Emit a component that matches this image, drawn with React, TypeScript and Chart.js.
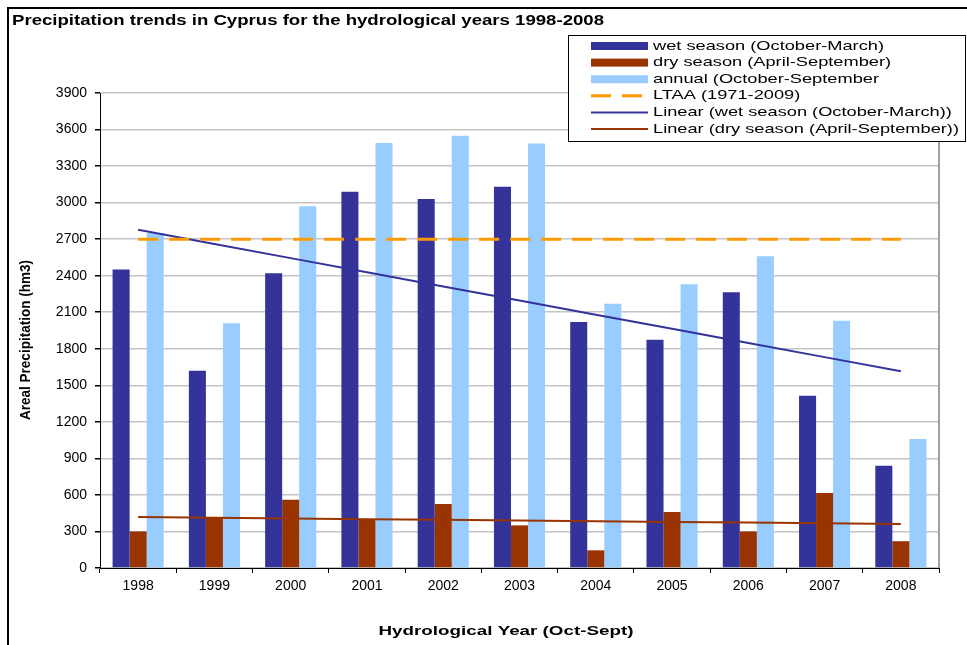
import { useEffect, useRef } from 'react';
import { Chart, registerables } from 'chart.js';

Chart.register(...registerables);

// ---- data ----
const years = ['1998', '1999', '2000', '2001', '2002', '2003', '2004', '2005', '2006', '2007', '2008'];
const wetSeason = [2450, 1620, 2420, 3090, 3030, 3130, 2020, 1875, 2265, 1415, 840];
const drySeason = [300, 410, 560, 400, 525, 350, 145, 460, 300, 615, 220];
const annualTotal = [2750, 2010, 2970, 3490, 3550, 3485, 2170, 2330, 2560, 2030, 1060];
const ltaaValue = 2700;
const yMin = 0;
const yMax = 3900;
const yStep = 300;

const titleText = 'Precipitation trends in Cyprus for the hydrological years 1998-2008';
const yTitleText = 'Areal Precipitation (hm3)';
const xTitleText = 'Hydrological Year (Oct-Sept)';

const labelWet = 'wet season (October-March)';
const labelDry = 'dry season (April-September)';
const labelAnnual = 'annual (October-September';
const labelLtaa = 'LTAA (1971-2009)';
const labelLinWet = 'Linear (wet season (October-March))';
const labelLinDry = 'Linear (dry season (April-September))';

// least-squares linear trend (like a spreadsheet "Linear" trendline)
function linearTrend(vals: number[]): number[] {
  const n = vals.length;
  let sx = 0, sy = 0, sxy = 0, sxx = 0;
  vals.forEach((v, i) => { sx += i; sy += v; sxy += i * v; sxx += i * i; });
  const b = (n * sxy - sx * sy) / (n * sxx - sx * sx);
  const a = (sy - b * sx) / n;
  return vals.map((_, i) => a + b * i);
}

const FONT = "'Liberation Sans', Arial, sans-serif";

function drawText(
  ctx: CanvasRenderingContext2D, text: string, x: number, y: number, font: string,
  align: 'left' | 'center', scaleX: number | null, targetWidth?: number
) {
  ctx.save();
  ctx.font = font;
  ctx.textBaseline = 'middle';
  ctx.textAlign = 'left';
  ctx.fillStyle = '#000';
  const w = ctx.measureText(text).width;
  const s = targetWidth ? targetWidth / w : (scaleX ?? 1);
  const left = align === 'left' ? x : x - (w * s) / 2;
  ctx.translate(left, y);
  ctx.scale(s, 1);
  ctx.fillText(text, 0, 0);
  ctx.restore();
}

const decorPlugin = {
  id: 'decor',
  beforeDatasetsDraw(chart: any) {
    const { ctx, chartArea } = chart;
    ctx.save();
    ctx.strokeStyle = '#a0a0a0';
    ctx.lineWidth = 2;
    ctx.beginPath();
    ctx.moveTo(chartArea.right, chartArea.top);
    ctx.lineTo(chartArea.right, chartArea.bottom);
    ctx.stroke();
    ctx.restore();
  },
  afterDraw(chart: any) {
    const { ctx } = chart;
    // outer frame
    ctx.save();
    ctx.strokeStyle = '#000';
    ctx.lineWidth = 2;
    ctx.strokeRect(8, 8, 1000, 700);
    ctx.restore();

    // title
    drawText(ctx, titleText, 12, 21, `bold 14px ${FONT}`, 'left', null, 592);
    // axis titles
    ctx.save();
    ctx.translate(26, 340);
    ctx.rotate(-Math.PI / 2);
    drawText(ctx, yTitleText, 0, 0, `bold 14px ${FONT}`, 'center', null, 160);
    ctx.restore();
    drawText(ctx, xTitleText, 506, 631, `bold 13px ${FONT}`, 'center', null, 255);

    // legend box
    const bx = 568, by = 35, bw = 397, bh = 106;
    ctx.save();
    ctx.fillStyle = '#fff';
    ctx.fillRect(bx, by, bw, bh);
    ctx.strokeStyle = '#000';
    ctx.lineWidth = 1;
    ctx.strokeRect(bx + 0.5, by + 0.5, bw, bh);
    ctx.restore();

    const datasets = chart.data.datasets;
    ctx.save();
    ctx.font = `13px ${FONT}`;
    const longest = Math.max(...datasets.map((d: any) => ctx.measureText(d.label).width));
    ctx.restore();
    const sx = 306 / longest;
    const swX = 591, swW = 57, textX = 653;
    datasets.forEach((d: any, i: number) => {
      const cy = 46 + i * 16.6;
      ctx.save();
      if (d.type === 'line') {
        ctx.strokeStyle = d.borderColor;
        ctx.lineWidth = d.borderWidth;
        if (d.borderDash) ctx.setLineDash([20, 11]);
        ctx.beginPath();
        ctx.moveTo(swX, cy);
        ctx.lineTo(swX + swW, cy);
        ctx.stroke();
      } else {
        ctx.fillStyle = d.backgroundColor;
        ctx.fillRect(swX, cy - 4, swW, 8);
      }
      ctx.restore();
      drawText(ctx, d.label, textX, cy, `13px ${FONT}`, 'left', sx);
    });
  },
};

export default function App() {
  const canvasRef = useRef<HTMLCanvasElement | null>(null);

  useEffect(() => {
    document.body.style.margin = '0';
    document.body.style.overflow = 'hidden';
    const canvas = canvasRef.current;
    if (!canvas) return;
    Chart.defaults.font.family = FONT;
    const wetTrend = linearTrend(wetSeason);
    const dryTrend = linearTrend(drySeason);
    const ltaa = years.map(() => ltaaValue);

    const chart = new Chart(canvas, {
      type: 'bar',
      data: {
        labels: years,
        datasets: [
          { type: 'bar', label: labelWet, data: wetSeason, backgroundColor: '#333399', order: 1 },
          { type: 'bar', label: labelDry, data: drySeason, backgroundColor: '#993300', order: 1 },
          { type: 'bar', label: labelAnnual, data: annualTotal, backgroundColor: '#99CCFF', order: 1 },
          { type: 'line', label: labelLtaa, data: ltaa, borderColor: '#FF9900', borderWidth: 3, borderDash: [20, 11], pointRadius: 0, fill: false, order: 0 } as any,
          { type: 'line', label: labelLinWet, data: wetTrend, borderColor: '#333399', borderWidth: 2, pointRadius: 0, fill: false, order: 0 } as any,
          { type: 'line', label: labelLinDry, data: dryTrend, borderColor: '#993300', borderWidth: 2, pointRadius: 0, fill: false, order: 0 } as any,
        ],
      },
      options: {
        responsive: false,
        animation: false,
        devicePixelRatio: 1,
        layout: { padding: { top: 93, right: 28, left: 0, bottom: 0 } },
        datasets: { bar: { barPercentage: 1, categoryPercentage: 0.67 } },
        plugins: {
          legend: { display: false },
          title: { display: false },
          tooltip: { enabled: false },
        },
        scales: {
          x: {
            grid: { display: true, drawOnChartArea: false, drawTicks: true, tickLength: 5, tickColor: '#000', offset: true },
            border: { display: true, color: '#000', width: 1 },
            ticks: { color: '#000', font: { size: 14 }, padding: 5, maxRotation: 0 },
            afterFit: (s: any) => { s.height = 77; },
          },
          y: {
            min: yMin,
            max: yMax,
            ticks: { stepSize: yStep, color: '#000', font: { size: 14 }, padding: 8, callback: (v: any) => String(v) },
            grid: { color: '#C4C4C4', lineWidth: 1.5, drawTicks: true, tickLength: 5, tickColor: '#000' },
            border: { display: true, color: '#000', width: 1 },
            afterFit: (s: any) => { s.width = 100; },
          },
        },
      },
      plugins: [decorPlugin],
    });
    return () => chart.destroy();
  }, []);

  return (
    <div style={{ width: 967, height: 645, position: 'relative' }}>
      <canvas ref={canvasRef} width={967} height={645} style={{ display: 'block', width: 967, height: 645 }} />
    </div>
  );
}
